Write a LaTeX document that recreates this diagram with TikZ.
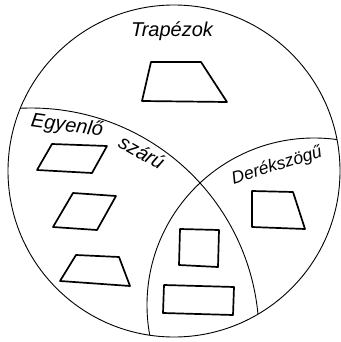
\documentclass[tikz,border=0pt]{standalone}
\usepackage{fontspec}
\setsansfont{Liberation Sans}
\usepackage{tikz}

\begin{document}
\begin{tikzpicture}[
  x=1pt, y=-1pt,
  ring/.style={draw=black, line width=0.9pt},
  quad/.style={draw=black, line width=1.7pt, line join=round},
  tag/.style={font=\sffamily\itshape\fontsize{20}{20}\selectfont, inner sep=0pt},
  smalltag/.style={tag, font=\sffamily\itshape\fontsize{17.5}{17.5}\selectfont},
]
  \useasboundingbox (0,0) rectangle (340,342);

  % outer set and the two subsets
  \draw[ring] (174,171) circle[radius=166];
  \begin{scope}
    \clip (174,171) circle[radius=166];
    \draw[ring] (31,336) circle[radius=228];
    \draw[ring] (314,305) circle[radius=167];
  \end{scope}

  \node[tag] (trap) at (172,31) {Trapézok};
  \node[tag, rotate=-8]  (egy)  at (67,126) {Egyenlő};
  \node[tag, rotate=-30] (szar) at (142,152) {szárú};
  \node[smalltag, rotate=17] (der) at (277,166) {Derékszögű};

  % figures
  \draw[quad] (151,62) -- (201,62) -- (227,102) -- (142,101) -- cycle;
  \draw[quad] (52,144) -- (107,146) -- (92,173) -- (37,170) -- cycle;
  \draw[quad] (73,193) -- (116,196) -- (97,230) -- (53,227) -- cycle;
  \draw[quad] (76,255) -- (119,257) -- (130,286) -- (60,281) -- cycle;
  \draw[quad] (252,191) -- (293,192) -- (305,229) -- (252,227) -- cycle;
  \draw[quad] (180,229) -- (219,230) -- (218,267) -- (179,265) -- cycle;
  \draw[quad] (164,285) -- (234,287) -- (233,315) -- (163,313) -- cycle;
\end{tikzpicture}
\end{document}
